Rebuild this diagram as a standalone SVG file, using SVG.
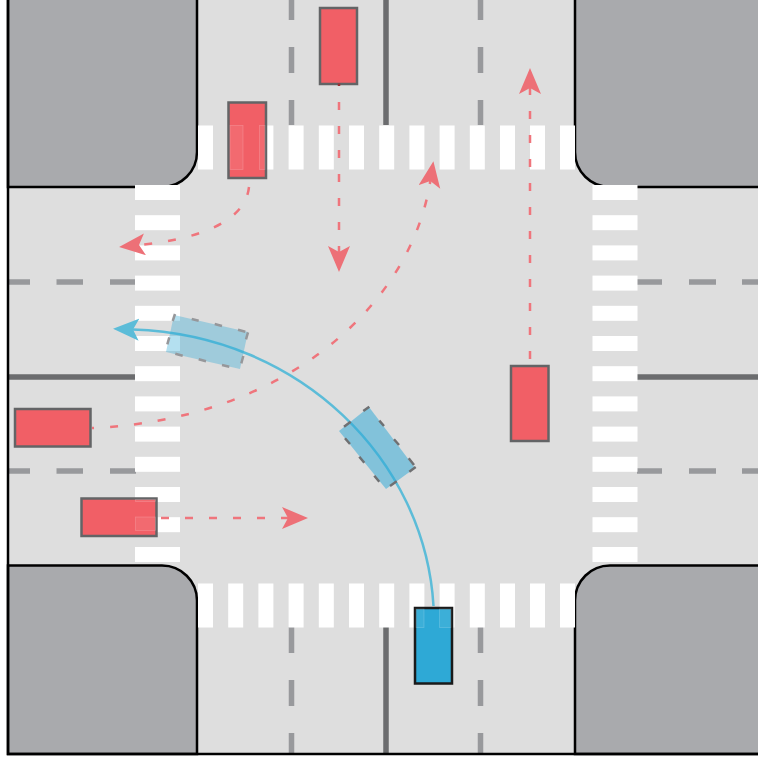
<svg xmlns="http://www.w3.org/2000/svg" width="758" height="760" viewBox="0 0 758 760">
<style>
.block{fill:#a9aaad;stroke:#000;stroke-width:2.5}
.stripe{fill:#fff}
.solid{stroke:#6b6c6e;stroke-width:5.5;fill:none}
.dash{stroke:#98999c;stroke-width:5.5;fill:none}
.car{fill:#f15f66;stroke:#636466;stroke-width:2.5}
.self{fill:#2ea9d6;stroke:#1a1a1a;stroke-width:2.5}
.ghost{fill:#2ea9d6;stroke:none}
.ghost-edge{fill:none;stroke-width:2.5}
.path{fill:none;stroke:#ef757c;stroke-width:2.5;stroke-dasharray:8 16}
.sweep{fill:none;stroke:#5cbcd8;stroke-width:2.5}
.sheen{fill:#fff;fill-opacity:.07;stroke:#fff;stroke-opacity:.2;stroke-width:.8}
</style>
<defs>
<marker id="redHead" markerUnits="userSpaceOnUse" markerWidth="28" markerHeight="24" refX="6" refY="11" orient="auto"><path d="M0 0L26 11L0 22L6 11Z" fill="#ed7077"/></marker>
<marker id="blueHead" markerUnits="userSpaceOnUse" markerWidth="28" markerHeight="24" refX="6" refY="11" orient="auto"><path d="M0 0L26 11L0 22L6 11Z" fill="#5cbcd8"/></marker>
</defs>
<rect width="758" height="760" fill="#fff"/>
<rect x="8" y="0" width="750" height="754" fill="#dedede"/>
<g id="lane-markings">
<path class="solid" d="M386 0V125M386 627V754M8 377H135M637 377H758"/>
<path class="dash" d="M291.500 0V20M291.500 47V73M291.500 100V125M480.500 0V20M480.500 47V73M480.500 100V125"/>
<path class="dash" d="M291.500 627V653M291.500 680V706M291.500 733V754M480.500 627V653M480.500 680V706M480.500 733V754"/>
<path class="dash" d="M8 282H30M56.500 282H83M110 282H136M8 471H30M56.500 471H83M110 471H136"/>
<path class="dash" d="M637 282H662M689 282H716M742 282H758M637 471H662M689 471H716M742 471H758"/>
</g>
<g id="kerbs">
<path class="block" d="M8 -4H197V152A35 35 0 0 1 162 187H8Z"/>
<path class="block" d="M762 -4H575V152A35 35 0 0 0 610 187H762Z"/>
<path class="block" d="M8 754V565.500H162A35 35 0 0 1 197 600.500V754Z"/>
<path class="block" d="M762 754H575V600.500A35 35 0 0 1 610 565.500H762Z"/>
<path d="M8 0V754H758" fill="none" stroke="#000" stroke-width="2.500"/>
</g>
<g id="crosswalk-top" class="stripe">
<rect x="198" y="125.500" width="15" height="44"/><rect x="228.200" y="125.500" width="15" height="44"/><rect x="258.400" y="125.500" width="15" height="44"/><rect x="288.600" y="125.500" width="15" height="44"/><rect x="318.800" y="125.500" width="15" height="44"/><rect x="349" y="125.500" width="15" height="44"/><rect x="379.200" y="125.500" width="15" height="44"/><rect x="409.400" y="125.500" width="15" height="44"/><rect x="439.600" y="125.500" width="15" height="44"/><rect x="469.800" y="125.500" width="15" height="44"/><rect x="500" y="125.500" width="15" height="44"/><rect x="530" y="125.500" width="15" height="44"/><rect x="560" y="125.500" width="15" height="44"/>
</g>
<g id="crosswalk-bottom" class="stripe">
<rect x="198" y="583.500" width="15" height="44"/><rect x="228.200" y="583.500" width="15" height="44"/><rect x="258.400" y="583.500" width="15" height="44"/><rect x="288.600" y="583.500" width="15" height="44"/><rect x="318.800" y="583.500" width="15" height="44"/><rect x="349" y="583.500" width="15" height="44"/><rect x="379.200" y="583.500" width="15" height="44"/><rect x="409.400" y="583.500" width="15" height="44"/><rect x="439.600" y="583.500" width="15" height="44"/><rect x="469.800" y="583.500" width="15" height="44"/><rect x="500" y="583.500" width="15" height="44"/><rect x="530" y="583.500" width="15" height="44"/><rect x="560" y="583.500" width="15" height="44"/>
</g>
<g id="crosswalk-left" class="stripe">
<rect x="135" y="185" width="45" height="15"/><rect x="135" y="215.200" width="45" height="15"/><rect x="135" y="245.400" width="45" height="15"/><rect x="135" y="275.600" width="45" height="15"/><rect x="135" y="305.800" width="45" height="15"/><rect x="135" y="336" width="45" height="15"/><rect x="135" y="366.200" width="45" height="15"/><rect x="135" y="396.400" width="45" height="15"/><rect x="135" y="426.600" width="45" height="15"/><rect x="135" y="456.800" width="45" height="15"/><rect x="135" y="487" width="45" height="15"/><rect x="135" y="517.200" width="45" height="15"/><rect x="135" y="547" width="45" height="15"/>
</g>
<g id="crosswalk-right" class="stripe">
<rect x="592.500" y="185" width="45" height="15"/><rect x="592.500" y="215.200" width="45" height="15"/><rect x="592.500" y="245.400" width="45" height="15"/><rect x="592.500" y="275.600" width="45" height="15"/><rect x="592.500" y="305.800" width="45" height="15"/><rect x="592.500" y="336" width="45" height="15"/><rect x="592.500" y="366.200" width="45" height="15"/><rect x="592.500" y="396.400" width="45" height="15"/><rect x="592.500" y="426.600" width="45" height="15"/><rect x="592.500" y="456.800" width="45" height="15"/><rect x="592.500" y="487" width="45" height="15"/><rect x="592.500" y="517.200" width="45" height="15"/><rect x="592.500" y="547" width="45" height="15"/>
</g>
<g id="connectors">
<path class="sweep" marker-end="url(#blueHead)" d="M433.500 606C425 460 300 335 133 329.500"/>
<path class="path" marker-end="url(#redHead)" d="M339 102V252"/>
<path class="path" marker-end="url(#redHead)" d="M530 359V88"/>
<path class="path" marker-end="url(#redHead)" d="M161 518H288"/>
<path class="path" marker-end="url(#redHead)" d="M249 187C245 225 190 240 139 245"/>
<path class="path" stroke-dashoffset="6" marker-end="url(#redHead)" d="M92 428C280 420 410 310 430.300 181"/>
</g>
<g id="ghost-car-1"><path class="ghost" fill-opacity=".52" d="M369 407L415 468L386 489L339 431Z"/>
<path class="ghost-edge" stroke="#6f7072" d="M363.300 411L369.300 406.700M379.300 420.700L384 426M394 439.300L399 445M408.700 458.300L414 465M409.300 471.700L415.700 467M390 486L396.700 481.300M374.300 475.700L379.300 481.700M359.300 456.700L364.300 462.700M345 438.300L350 444M344 426.700L350.700 421.700"/></g>
<g id="ghost-car-2"><path class="ghost" fill-opacity=".36" d="M174 315L248 332L240 369L166 352Z"/>
<path class="ghost-edge" stroke="#96979a" d="M175 314L172.700 321M191.700 319L198.700 320.700M214.700 324L222 326M238 329.700L245.300 331.700M248 332.300L246 339.300M243.300 356L241.300 363.300M229.300 366.700L222 365M206 361.300L198.700 359.300M182.700 355.700L175.300 353.700M167.300 344.300L169.300 337.300"/></g>
<g id="car-top"><rect class="car" x="320" y="8" width="37" height="76"/><path d="M339 83.500V86" stroke="#9b2f33" stroke-width="2.500" fill="none"/></g>
<g id="car-turning"><rect class="car" x="228.500" y="102.500" width="37.500" height="75.500"/><rect class="sheen" x="230" y="125.500" width="13" height="44"/><rect class="sheen" x="259.500" y="125.500" width="5.500" height="44"/></g>
<g id="car-right"><rect class="car" x="511" y="366" width="37.500" height="75"/></g>
<g id="car-left-1"><rect class="car" x="15" y="409" width="75.500" height="37.500"/></g>
<g id="car-left-2"><rect class="car" x="81.500" y="498.500" width="75" height="37.500"/><rect class="sheen" x="135.500" y="499.500" width="20" height="2"/><rect class="sheen" x="135.500" y="517" width="20" height="13.500"/></g>
<g id="car-self"><rect class="self" x="415" y="608" width="37" height="75.500"/><rect class="sheen" x="416" y="609" width="8" height="18.500"/><rect class="sheen" x="439.500" y="609" width="11.500" height="18.500"/></g>
</svg>
